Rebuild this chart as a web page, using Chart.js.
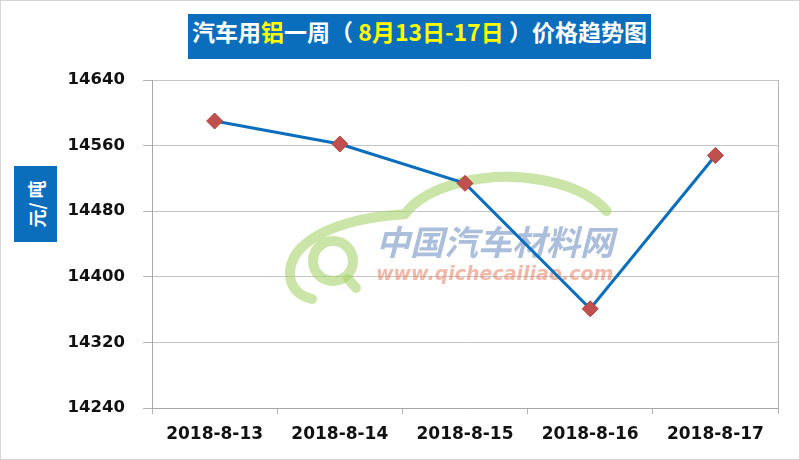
<!DOCTYPE html>
<html>
<head>
<meta charset="utf-8">
<script src="https://cdn.jsdelivr.net/npm/chart.js@4.4.0/dist/chart.umd.min.js"></script>
<style>
  html, body { margin: 0; padding: 0; background: #fff; }
  #wrap { position: relative; width: 800px; height: 460px; overflow: hidden; }
  #chart { position: absolute; left: 0; top: 0; }
  #frame {
    position: absolute; left: 0; top: 0; width: 800px; height: 460px;
    box-sizing: border-box; border: 1px solid #d6d6d6; pointer-events: none;
  }
  #title {
    position: absolute; left: 188px; top: 14px; width: 463px; height: 45px;
    background: #0a6ebd; color: #fff; text-align: center; line-height: 45px;
    font: bold 23px "Noto Sans CJK SC", sans-serif; white-space: nowrap;
  }
  #title .hl { color: #ffff00; }
  #ylabel {
    position: absolute; left: 14px; top: 166px; width: 43px; height: 76px;
    background: #0a6ebd;
  }
  #ylabel span {
    position: absolute; left: 50%; top: 50%; white-space: nowrap;
    transform: translate(-50%, -50%) rotate(-90deg);
    color: #fff; font: bold 18px "Noto Sans CJK SC", sans-serif;
  }
</style>
</head>
<body>
<div id="wrap">
  <canvas id="chart" width="800" height="460"></canvas>
  <div id="title">汽车用<span class="hl">铝</span>一周（ <span class="hl">8月13日-17日</span> ）价格趋势图</div>
  <div id="ylabel"><span>元/ 吨</span></div>
  <div id="frame"></div>
</div>
<script>
/********** DATA **********/
const dates = ['2018-8-13', '2018-8-14', '2018-8-15', '2018-8-16', '2018-8-17'];
const prices = [14590, 14562, 14514, 14361, 14548];
const yMin = 14240;
const yMax = 14640;
const yStep = 80;

/********** WATERMARK (site logo behind the line) **********/
const watermark = {
  id: 'watermark',
  beforeDatasetsDraw(chart) {
    const c = chart.ctx;
    c.save();
    c.globalAlpha = 0.6;
    c.strokeStyle = '#a6d46c';
    c.lineCap = 'round';
    c.lineJoin = 'round';
    // car roof + hood, one stroke
    c.lineWidth = 10;
    c.beginPath();
    c.ellipse(507, 236, 110, 59, 0, Math.PI * 1.86, Math.PI * 1.12, true);
    c.bezierCurveTo(340, 218, 288, 240, 290, 276);
    c.quadraticCurveTo(292, 294, 312, 299);
    c.stroke();
    // inner "Q"
    c.lineWidth = 10;
    c.beginPath();
    c.arc(333, 261, 20, 0, Math.PI * 2);
    c.stroke();
    c.beginPath();
    c.moveTo(348, 279);
    c.lineTo(356, 288);
    c.stroke();
    // site name
    c.fillStyle = '#7392c4';
    c.font = 'italic bold 34px "Noto Sans CJK SC", sans-serif';
    c.textBaseline = 'middle';
    c.fillText('中国汽车材料网', 376, 242, 264);
    c.fillStyle = '#e98a70';
    c.font = 'italic bold 19px "DejaVu Sans", sans-serif';
    c.fillText('www.qichecailiao.com', 376, 275, 258);
    c.restore();
  }
};

/********** CHART **********/
const tickFont = { family: '"DejaVu Sans", sans-serif', size: 17, weight: 'bold' };

new Chart(document.getElementById('chart').getContext('2d'), {
  type: 'line',
  data: {
    labels: dates,
    datasets: [{
      data: prices,
      borderColor: '#0a6ebd',
      borderWidth: 3,
      pointStyle: 'rectRot',
      pointRadius: 8,
      pointHoverRadius: 8,
      pointBackgroundColor: '#c0504d',
      pointBorderColor: '#b5433f',
      pointBorderWidth: 1,
      tension: 0
    }]
  },
  options: {
    responsive: false,
    animation: false,
    devicePixelRatio: 1,
    layout: { padding: { left: 0, right: 22, top: 80, bottom: 0 } },
    plugins: { legend: { display: false }, tooltip: { enabled: false }, title: { display: false } },
    scales: {
      x: {
        offset: true,
        grid: {
          offset: true,
          color: ctx => (ctx.type === 'tick' ? 'rgba(0,0,0,0)' : '#b4b4b4'),
          tickColor: '#b4b4b4',
          tickLength: 6
        },
        border: { color: '#a8a8a8' },
        ticks: { color: '#111', font: tickFont, padding: 10, maxRotation: 0 },
        afterFit: s => { s.height = 52; }
      },
      y: {
        min: yMin,
        max: yMax,
        grid: { color: '#c4c4c4', tickColor: '#b4b4b4', tickLength: 9 },
        border: { color: '#a8a8a8' },
        ticks: {
          stepSize: yStep, color: '#111', font: { ...tickFont, size: 16.5 }, padding: 18,
          callback: v => String(v)
        },
        afterFit: s => { s.width = 152; }
      }
    }
  },
  plugins: [watermark]
});
</script>
</body>
</html>
